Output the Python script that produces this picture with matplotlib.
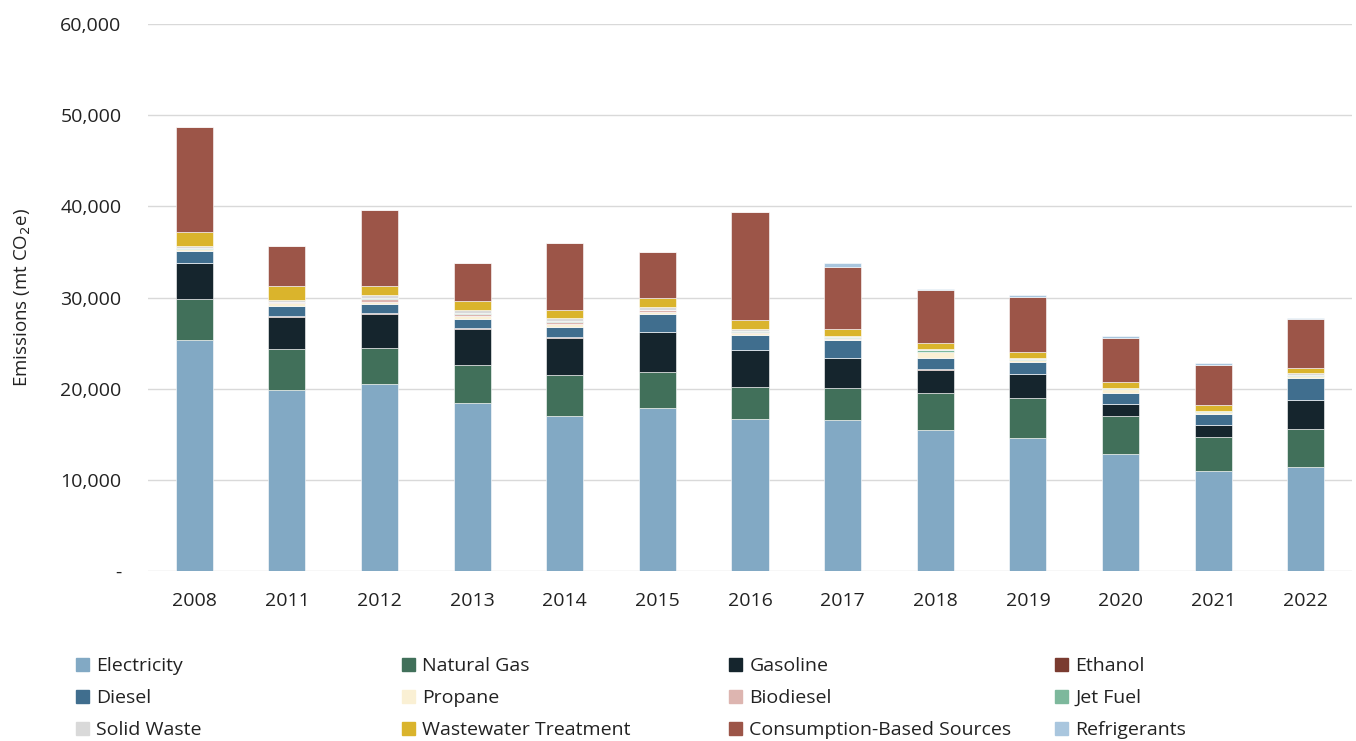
import matplotlib.pyplot as plt
import matplotlib.patches as mpatches
from matplotlib.ticker import FuncFormatter
import numpy as np

years = ["2008", "2011", "2012", "2013", "2014", "2015", "2016",
         "2017", "2018", "2019", "2020", "2021", "2022"]

electricity = [25380, 19880, 20460, 18440, 17040, 17880, 16670, 16560, 15460, 14580, 12850, 10980, 11460]
natural_gas = [4510, 4470, 4040, 4180, 4440, 3970, 3490, 3490, 4110, 4440, 4120, 3750, 4110]
gasoline = [3890, 3530, 3730, 3970, 4080, 4320, 4050, 3310, 2530, 2550, 1320, 1280, 3180]
ethanol = [30, 60, 80, 70, 70, 50, 60, 30, 40, 20, 0, 0, 20]
diesel = [1280, 1160, 1020, 1030, 1180, 2010, 1630, 1910, 1180, 1310, 1250, 1180, 2380]
propane = [200, 250, 200, 250, 300, 200, 200, 150, 700, 200, 400, 250, 200]
biodiesel = [60, 120, 300, 300, 200, 150, 150, 60, 50, 50, 50, 30, 50]
jet_fuel = [100, 80, 100, 80, 150, 100, 80, 150, 170, 150, 60, 50, 150]
solid_waste = [200, 140, 320, 330, 270, 280, 230, 160, 100, 110, 70, 70, 120]
wastewater = [1530, 1610, 1020, 990, 920, 990, 920, 730, 700, 660, 630, 630, 620]
consumption = [11480, 4400, 8290, 4110, 7340, 5030, 11900, 6800, 5730, 5990, 4850, 4400, 5330]
refrigerants = [0, 0, 0, 0, 0, 0, 0, 470, 150, 180, 220, 220, 180]

series = [
    ("Electricity", electricity, "#82a9c4"),
    ("Natural Gas", natural_gas, "#41705a"),
    ("Gasoline", gasoline, "#15252d"),
    ("Ethanol", ethanol, "#7a3b30"),
    ("Diesel", diesel, "#406e8e"),
    ("Propane", propane, "#faf0d4"),
    ("Biodiesel", biodiesel, "#ddb5b0"),
    ("Jet Fuel", jet_fuel, "#7db89c"),
    ("Solid Waste", solid_waste, "#d9d9d9"),
    ("Wastewater Treatment", wastewater, "#dab42c"),
    ("Consumption-Based Sources", consumption, "#9c5548"),
    ("Refrigerants", refrigerants, "#a9c6de"),
]

plt.rcParams['font.family'] = ['Open Sans', 'DejaVu Sans']

fig = plt.figure(figsize=(13.56, 7.41), dpi=100)
ax = fig.add_axes([0.1091, 0.2294, 0.888, 0.7382])

x = np.arange(len(years))
bottom = np.zeros(len(years))
handles = {}
for name, vals, color in series:
    vals = np.array(vals, dtype=float)
    ax.bar(x, vals, width=0.4, bottom=bottom, color=color,
           edgecolor="white", linewidth=0.4, zorder=3)
    handles[name] = mpatches.Patch(color=color, label=name)
    bottom += vals

ax.set_xlim(-0.5, len(years) - 0.5)
ax.set_ylim(0, 60000)
ax.set_yticks(np.arange(0, 60001, 10000))
ax.yaxis.set_major_formatter(FuncFormatter(lambda v, p: "-" if v == 0 else f"{v:,.0f}"))
ax.set_xticks(x)
ax.set_xticklabels(years)
ax.tick_params(axis="both", length=0, labelsize=14, colors="#222222")
ax.tick_params(axis="y", pad=19)
ax.tick_params(axis="x", pad=15)
ax.grid(axis="y", color="#d9d9d9", linewidth=1, zorder=0)
for s in ax.spines.values():
    s.set_visible(False)

fig.text(0.017, 0.5982, "Emissions (mt CO$_2$e)", rotation=90,
         ha="center", va="center", fontsize=13.5, color="#222222")

# legend: 3 rows x 4 columns, evenly spaced columns
columns = [
    ["Electricity", "Diesel", "Solid Waste"],
    ["Natural Gas", "Propane", "Wastewater Treatment"],
    ["Gasoline", "Biodiesel", "Consumption-Based Sources"],
    ["Ethanol", "Jet Fuel", "Refrigerants"],
]
col_x = [76, 402, 729, 1055]
for cx, names in zip(col_x, columns):
    leg = fig.legend(handles=[handles[n] for n in names], loc="upper left",
                     bbox_to_anchor=(cx / 1356, 1 - 657 / 741), frameon=False,
                     fontsize=14, handlelength=0.65, handleheight=0.65,
                     handletextpad=0.4, labelspacing=0.73, borderaxespad=0,
                     borderpad=0)
    for t in leg.get_texts():
        t.set_color("#222222")

fig.savefig("out.png", dpi=100)
